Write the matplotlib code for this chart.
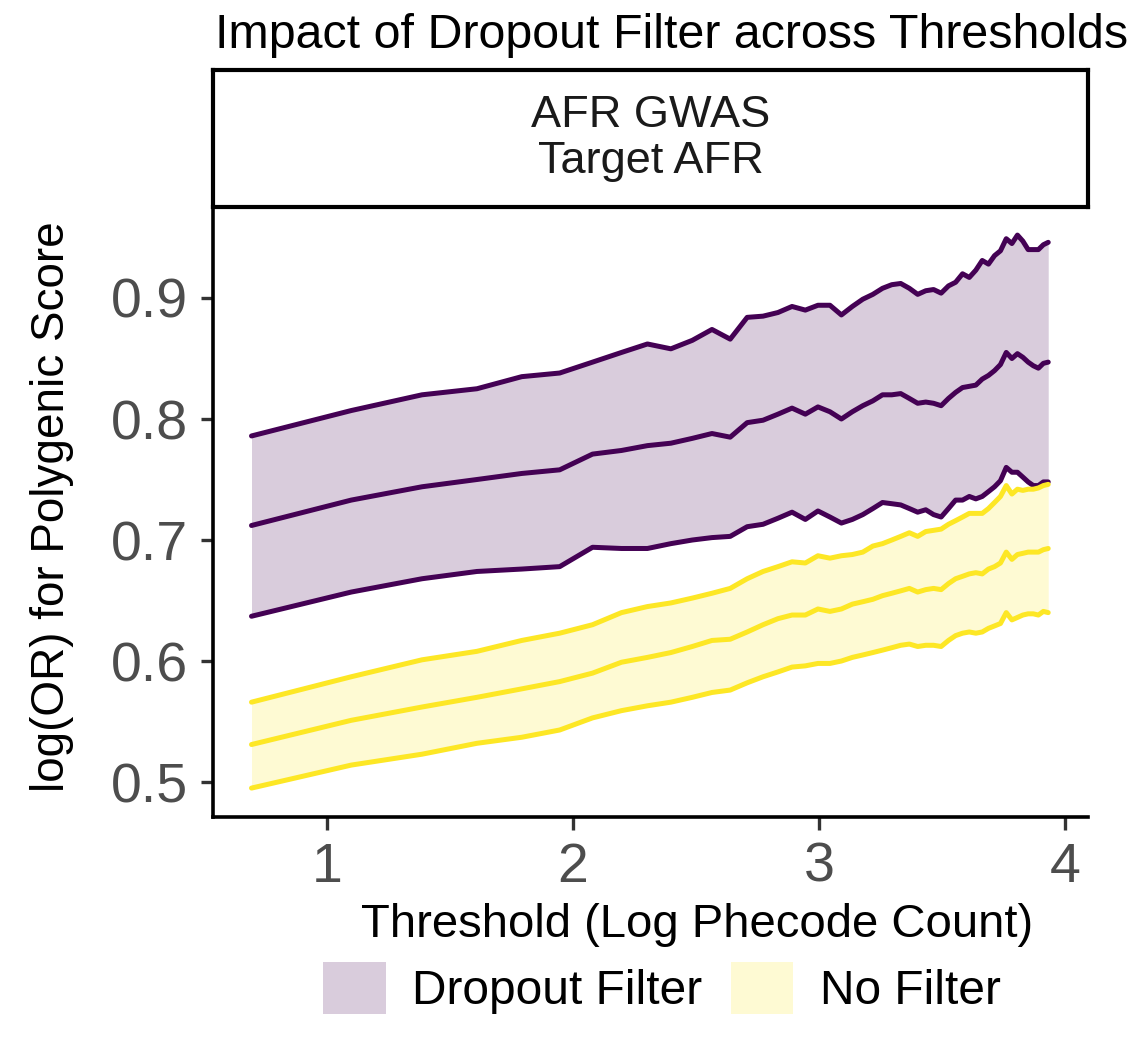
import matplotlib
matplotlib.use("Agg")
import matplotlib.pyplot as plt
from matplotlib.patches import Patch
import numpy as np

# phecode count thresholds (x axis is log of the count)
phecode_counts = [2, 3, 4, 5, 6, 7, 8, 9, 10, 11, 12, 13, 14, 15, 16, 17, 18, 19, 20, 21,
                  22, 23, 24, 25, 26, 27, 28, 29, 30, 31, 32, 33, 34, 35, 36, 37, 38, 39, 40, 41,
                  42, 43, 44, 45, 46, 47, 48, 49, 50, 51]

dropout_upper = [0.786, 0.807, 0.820, 0.825, 0.835, 0.838, 0.847, 0.855, 0.862, 0.858,
                 0.865, 0.874, 0.866, 0.884, 0.885, 0.888, 0.893, 0.890, 0.894, 0.894,
                 0.886, 0.893, 0.899, 0.903, 0.908, 0.911, 0.912, 0.908, 0.903, 0.906,
                 0.907, 0.904, 0.910, 0.913, 0.920, 0.917, 0.923, 0.931, 0.928, 0.935,
                 0.939, 0.949, 0.945, 0.952, 0.947, 0.940, 0.940, 0.940, 0.944, 0.946]
dropout_mid = [0.712, 0.733, 0.744, 0.750, 0.755, 0.758, 0.771, 0.774, 0.778, 0.780,
               0.784, 0.788, 0.785, 0.797, 0.799, 0.804, 0.809, 0.804, 0.810, 0.806,
               0.800, 0.806, 0.811, 0.815, 0.820, 0.820, 0.821, 0.817, 0.813, 0.814,
               0.813, 0.811, 0.817, 0.822, 0.826, 0.827, 0.828, 0.833, 0.836, 0.840,
               0.845, 0.855, 0.850, 0.854, 0.851, 0.847, 0.844, 0.842, 0.846, 0.847]
dropout_lower = [0.637, 0.657, 0.668, 0.674, 0.676, 0.678, 0.694, 0.693, 0.693, 0.697,
                 0.700, 0.702, 0.703, 0.711, 0.713, 0.718, 0.723, 0.717, 0.724, 0.719,
                 0.714, 0.717, 0.721, 0.726, 0.731, 0.730, 0.729, 0.726, 0.723, 0.725,
                 0.721, 0.719, 0.726, 0.733, 0.733, 0.736, 0.734, 0.736, 0.740, 0.744,
                 0.749, 0.760, 0.756, 0.756, 0.752, 0.748, 0.745, 0.745, 0.748, 0.748]

nofilter_upper = [0.566, 0.587, 0.601, 0.608, 0.617, 0.623, 0.630, 0.640, 0.645, 0.648,
                  0.652, 0.656, 0.660, 0.668, 0.674, 0.678, 0.682, 0.681, 0.687, 0.685,
                  0.687, 0.688, 0.690, 0.695, 0.697, 0.700, 0.703, 0.706, 0.703, 0.707,
                  0.708, 0.709, 0.713, 0.716, 0.719, 0.722, 0.722, 0.722, 0.726, 0.731,
                  0.736, 0.745, 0.738, 0.742, 0.741, 0.742, 0.742, 0.743, 0.745, 0.746]
nofilter_mid = [0.531, 0.551, 0.562, 0.570, 0.577, 0.583, 0.590, 0.599, 0.603, 0.607,
                0.612, 0.617, 0.618, 0.624, 0.630, 0.635, 0.638, 0.638, 0.643, 0.641,
                0.643, 0.647, 0.649, 0.651, 0.654, 0.656, 0.658, 0.660, 0.657, 0.659,
                0.660, 0.659, 0.664, 0.668, 0.670, 0.672, 0.673, 0.672, 0.676, 0.678,
                0.681, 0.690, 0.684, 0.688, 0.689, 0.690, 0.690, 0.690, 0.692, 0.693]
nofilter_lower = [0.495, 0.514, 0.523, 0.532, 0.537, 0.543, 0.553, 0.559, 0.563, 0.566,
                  0.570, 0.574, 0.576, 0.582, 0.587, 0.591, 0.595, 0.596, 0.598, 0.598,
                  0.600, 0.603, 0.605, 0.607, 0.609, 0.611, 0.613, 0.614, 0.612, 0.613,
                  0.613, 0.612, 0.617, 0.621, 0.623, 0.624, 0.623, 0.624, 0.627, 0.629,
                  0.631, 0.640, 0.634, 0.636, 0.638, 0.639, 0.639, 0.638, 0.641, 0.640]

x_ticks = [1, 2, 3, 4]
y_ticks = [0.5, 0.6, 0.7, 0.8, 0.9]
group_labels = ["Dropout Filter", "No Filter"]

PURPLE = "#440154"
YELLOW = "#FDE725"
TICK_GREY = "#4D4D4D"

plt.rcParams["font.family"] = ["Liberation Sans", "DejaVu Sans"]

fig = plt.figure(figsize=(11.4, 10.5), dpi=100)
W, H = 1140, 1050


def fx(px):
    return px / W


def fy(py):
    return 1 - py / H


panel_l, panel_r, panel_t, panel_b = 213, 1088, 207, 817
ax = fig.add_axes([fx(panel_l), fy(panel_b), fx(panel_r - panel_l), (panel_b - panel_t) / H])

x = np.log(np.array(phecode_counts, dtype=float))

ax.fill_between(x, dropout_lower, dropout_upper, color=PURPLE, alpha=0.2, linewidth=0)
ax.fill_between(x, nofilter_lower, nofilter_upper, color=YELLOW, alpha=0.2, linewidth=0)
for series in (dropout_upper, dropout_mid, dropout_lower):
    ax.plot(x, series, color=PURPLE, linewidth=3.6, solid_joinstyle="round",
            solid_capstyle="round")
for series in (nofilter_upper, nofilter_mid, nofilter_lower):
    ax.plot(x, series, color=YELLOW, linewidth=3.6, solid_joinstyle="round",
            solid_capstyle="round")

ax.set_xlim(0.5366, 4.0935)
ax.set_ylim(0.4711, 0.9752)
ax.set_xticks(x_ticks)
ax.set_xticklabels([str(t) for t in x_ticks])
ax.set_yticks(y_ticks)
ax.set_yticklabels([f"{t:.1f}" for t in y_ticks])
ax.tick_params(labelsize=40, labelcolor=TICK_GREY, length=9, width=2.4,
               color="#333333", pad=9)
for side in ("top", "right"):
    ax.spines[side].set_visible(False)
for side in ("left", "bottom"):
    ax.spines[side].set_linewidth(2.6)
    ax.spines[side].set_color("black")

# facet strip
strip = fig.add_axes([fx(panel_l), fy(207), fx(panel_r - panel_l), (207 - 70) / H])
strip.set_xticks([])
strip.set_yticks([])
for sp in strip.spines.values():
    sp.set_linewidth(3.0)
    sp.set_color("black")
strip.text(0.5, 0.5, "AFR GWAS\nTarget AFR", ha="center", va="center",
           fontsize=32.5, color="#1A1A1A", linespacing=1.15, transform=strip.transAxes)

fig.text(fx(215), fy(35), "Impact of Dropout Filter across Thresholds",
         ha="left", va="center", fontsize=34.8, color="black")
fig.text(fx(697), fy(925), "Threshold (Log Phecode Count)",
         ha="center", va="center", fontsize=34, color="black")
fig.text(fx(52), fy(507), "log(OR) for Polygenic Score", rotation=90,
         ha="center", va="center", fontsize=33, color="black")

handles = [Patch(facecolor=PURPLE, alpha=0.2, edgecolor="none"),
           Patch(facecolor=YELLOW, alpha=0.2, edgecolor="none")]
fig.legend(handles, group_labels, loc="center", bbox_to_anchor=(fx(662), fy(988)),
           ncol=2, frameon=False, fontsize=34.5, handlelength=1.3, handleheight=1.3,
           handletextpad=0.55, columnspacing=0.6)

fig.savefig("out.png", dpi=100, facecolor="white")
